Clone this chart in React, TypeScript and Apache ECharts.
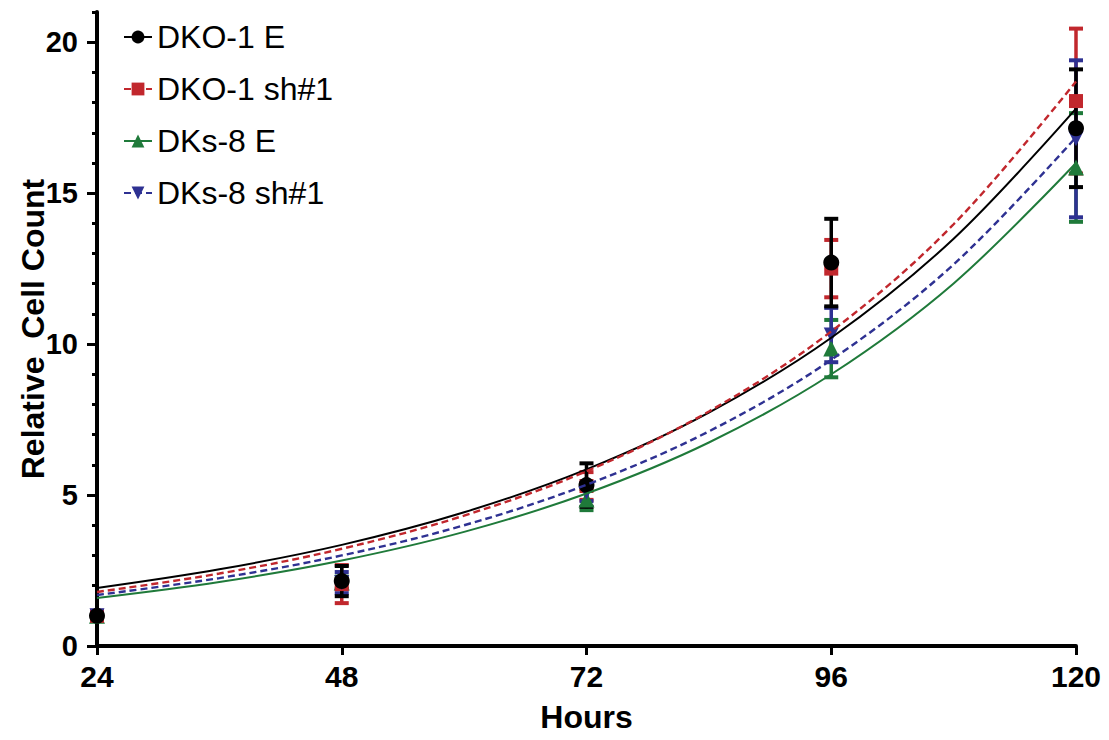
import React, { useEffect, useRef } from "react";
import * as echarts from "echarts";

// Measured time points (hours)
const hours = [24, 48, 72, 96, 120];

// Series names
const names = ["DKO-1 E", "DKO-1 sh#1", "DKs-8 E", "DKs-8 sh#1"];

// Mean relative cell count and error (±) per series
const dko1EMean = [1, 2.15, 5.33, 12.7, 17.15];
const dko1EErr = [0, 0.5, 0.72, 1.45, 1.95];
const dko1ShMean = [1, 2.05, 5.3, 12.5, 18.05];
const dko1ShErr = [0.05, 0.63, 0.46, 0.95, 2.4];
const dks8EMean = [1, 2.1, 4.85, 9.85, 15.85];
const dks8EErr = [0, 0.2, 0.35, 0.95, 1.8];
const dks8ShMean = [1, 2.1, 5.1, 10.3, 16.8];
const dks8ShErr = [0, 0.35, 0.3, 0.9, 2.6];

// Fitted growth curves
const fitHours = [24, 36, 48, 60, 72, 84, 96, 108, 120];
const dko1EFit = [1.92, 2.54, 3.35, 4.43, 5.85, 7.73, 10.21, 13.49, 17.8];
const dko1ShFit = [1.79, 2.4, 3.22, 4.32, 5.79, 7.77, 10.42, 13.97, 18.7];
const dks8EFit = [1.59, 2.12, 2.83, 3.78, 5.05, 6.74, 9.0, 12.01, 16.0];
const dks8ShFit = [1.69, 2.25, 3.0, 4.0, 5.34, 7.11, 9.48, 12.64, 16.85];

// Axis ticks
const yMajorTicks = [0, 5, 10, 15, 20];
const xTicks = [24, 48, 72, 96, 120];

const BLACK = "#000000";
const RED = "#c1272d";
const GREEN = "#1f7a3a";
const BLUE = "#2e3192";
const FONT = "'Liberation Sans', Arial, Helvetica, sans-serif";
const DOWN_TRI = "path://M0,0 L10,0 L5,9 Z";

function pairs(xs: number[], ys: number[]) {
  return xs.map((x, i) => [x, ys[i]]);
}
function errData(mean: number[], err: number[]) {
  return hours.map((h, i) => [h, mean[i] - err[i], mean[i] + err[i]]);
}

function errSeries(name: string, mean: number[], err: number[], color: string) {
  return {
    type: "custom",
    name,
    clip: false,
    data: errData(mean, err),
    renderItem: (params: any, api: any) => {
      const x = api.value(0);
      const lo = api.value(1);
      const hi = api.value(2);
      const t = api.coord([x, hi]);
      const b = api.coord([x, lo]);
      const hw = 7;
      if (Math.abs(t[1] - b[1]) < 1) return { type: "group", children: [] };
      return {
        type: "group",
        children: [
          { type: "line", shape: { x1: t[0], y1: t[1], x2: b[0], y2: b[1] }, style: { stroke: color, lineWidth: 3.5 } },
          { type: "line", shape: { x1: t[0] - hw, y1: t[1], x2: t[0] + hw, y2: t[1] }, style: { stroke: color, lineWidth: 4 } },
          { type: "line", shape: { x1: b[0] - hw, y1: b[1], x2: b[0] + hw, y2: b[1] }, style: { stroke: color, lineWidth: 4 } },
        ],
      };
    },
  };
}

function scatterSeries(name: string, mean: number[], color: string, symbol: string, size: number) {
  return {
    type: "scatter",
    name,
    data: pairs(hours, mean),
    symbol,
    symbolSize: size,
    itemStyle: { color, opacity: 1 },
  };
}

function fitSeries(name: string, fit: number[], color: string, dashed: boolean, symbol: string) {
  return {
    type: "line",
    name,
    data: pairs(fitHours, fit),
    smooth: 0.35,
    showSymbol: false,
    symbol,
    symbolSize: 13,
    itemStyle: { color },
    lineStyle: { color, width: dashed ? 2.4 : 2, type: dashed ? [7, 4] : "solid" },
  };
}

export default function App() {
  const ref = useRef<HTMLDivElement>(null);
  useEffect(() => {
    if (!ref.current) return;
    const chart = echarts.init(ref.current, undefined, { renderer: "svg" });
    const option: any = {
      animation: false,
      backgroundColor: "#ffffff",
      grid: { left: 97, right: 33, top: 12, bottom: 94, containLabel: false, outerBoundsMode: "none" },
      legend: {
        orient: "vertical",
        left: 118,
        top: 16,
        itemWidth: 28,
        itemHeight: 16,
        itemGap: 20,
        data: names,
        textStyle: { fontFamily: FONT, fontSize: 32, color: "#000" },
      },
      xAxis: {
        type: "value",
        min: 24,
        max: 120,
        interval: 24,
        name: "Hours",
        nameLocation: "middle",
        nameGap: 55,
        nameMoveOverlap: false,
        nameTextStyle: { fontFamily: FONT, fontSize: 32, fontWeight: "bold", color: "#000" },
        axisLine: { show: true, lineStyle: { color: "#000", width: 4 } },
        axisTick: { show: true, length: 9, lineStyle: { color: "#000", width: 3 }, customValues: xTicks },
        axisLabel: { fontFamily: FONT, fontSize: 30, fontWeight: "bold", color: "#000", margin: 15, customValues: xTicks },
        splitLine: { show: false },
      },
      yAxis: [
        {
          type: "value",
          min: 0,
          max: 21,
          interval: 5,
          position: "left",
          name: "Relative  Cell Count",
          nameLocation: "middle",
          nameGap: 48,
          nameMoveOverlap: false,
          nameTextStyle: { fontFamily: FONT, fontSize: 32, fontWeight: "bold", color: "#000" },
          axisLine: { show: true, lineStyle: { color: "#000", width: 4 } },
          axisTick: { show: true, length: 10, lineStyle: { color: "#000", width: 3 }, customValues: yMajorTicks },
          axisLabel: { fontFamily: FONT, fontSize: 29, fontWeight: "bold", color: "#000", margin: 19, customValues: yMajorTicks },
          splitLine: { show: false },
        },
        {
          type: "value",
          min: 0,
          max: 21,
          interval: 1,
          position: "left",
          offset: 0,
          axisLine: { show: false },
          axisTick: { show: true, length: 5, lineStyle: { color: "#000", width: 3 } },
          axisLabel: { show: false },
          splitLine: { show: false },
        },
      ],
      series: [
        fitSeries(names[0], dko1EFit, BLACK, false, "circle"),
        fitSeries(names[1], dko1ShFit, RED, true, "rect"),
        fitSeries(names[2], dks8EFit, GREEN, false, "triangle"),
        fitSeries(names[3], dks8ShFit, BLUE, true, DOWN_TRI),
        errSeries(names[2], dks8EMean, dks8EErr, GREEN),
        scatterSeries(names[2], dks8EMean, GREEN, "triangle", 16),
        errSeries(names[1], dko1ShMean, dko1ShErr, RED),
        scatterSeries(names[1], dko1ShMean, RED, "rect", 14),
        errSeries(names[3], dks8ShMean, dks8ShErr, BLUE),
        scatterSeries(names[3], dks8ShMean, BLUE, DOWN_TRI, 15),
        errSeries(names[0], dko1EMean, dko1EErr, BLACK),
        scatterSeries(names[0], dko1EMean, BLACK, "circle", 16),
      ],
    };
    chart.setOption(option);
    return () => chart.dispose();
  }, []);
  return <div ref={ref} style={{ position: "fixed", left: 0, top: 0, width: 1109, height: 740 }} />;
}
